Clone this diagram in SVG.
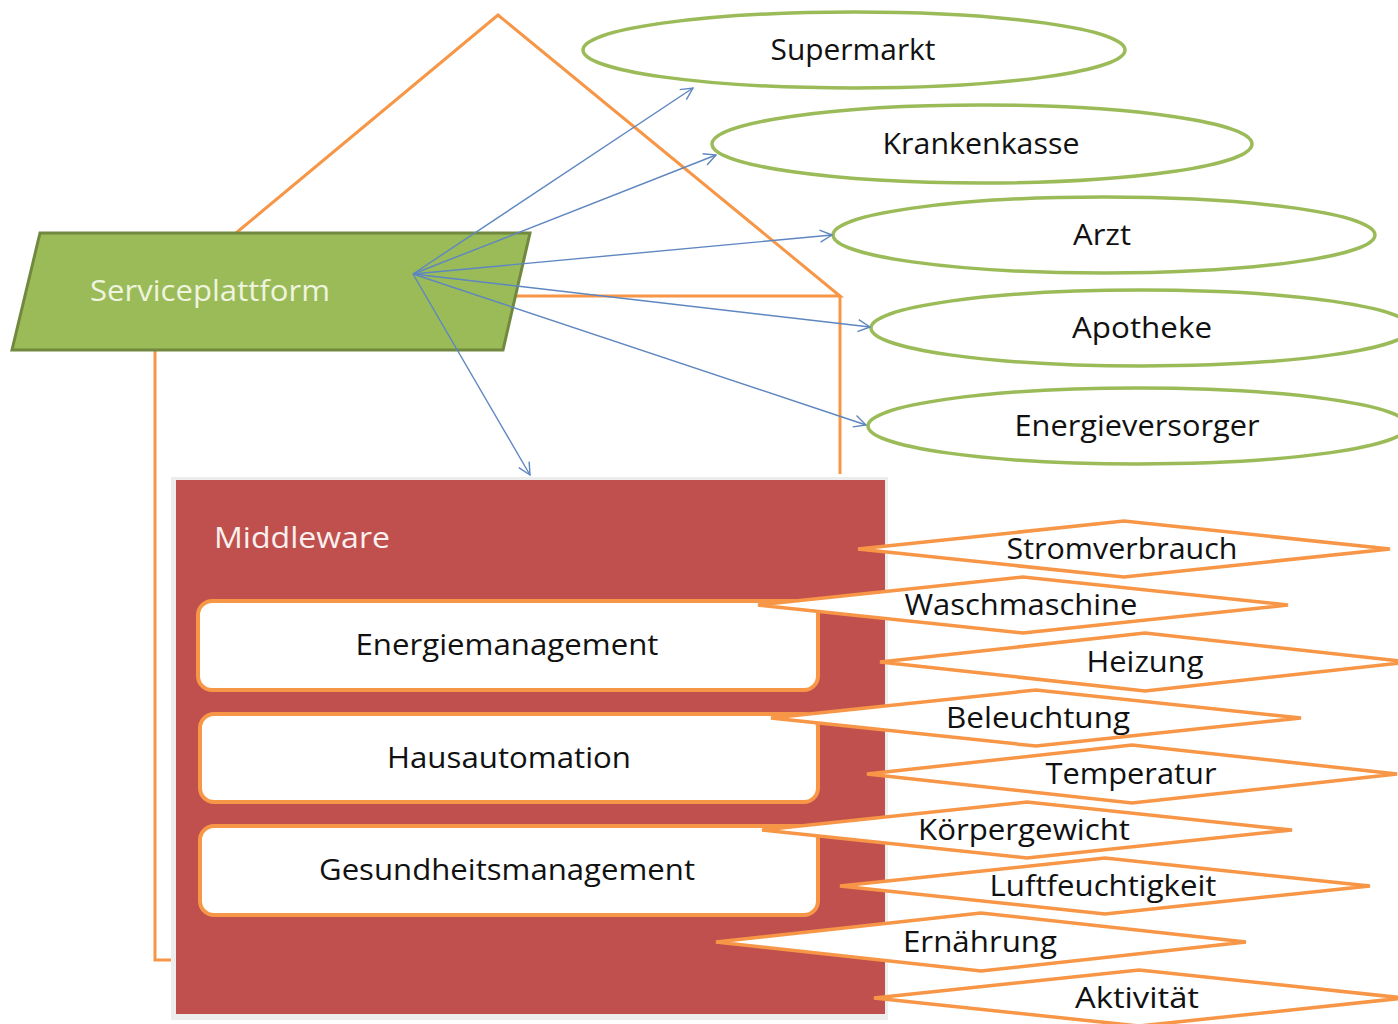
<svg xmlns="http://www.w3.org/2000/svg" width="1398" height="1024" viewBox="0 0 1398 1024">
<defs>
<style>
.house{fill:none;stroke:#F79646;stroke-width:3}
.ell{fill:#fff;stroke:#9BBB59;stroke-width:3.5}
.dia{fill:#fff;stroke:#F79646;stroke-width:3.5;stroke-linejoin:miter}
.box{fill:#fff;stroke:#F79646;stroke-width:4}
.t{font-family:"Open Sans","Liberation Sans",sans-serif;font-size:29px;fill:#111}
.tc{text-anchor:middle}
.arr{fill:none;stroke:#5E86C0;stroke-width:1.4;marker-end:url(#ah)}
</style>
<marker id="ah" viewBox="-13 -7 14 14" refX="0" refY="0" markerWidth="14" markerHeight="14" markerUnits="userSpaceOnUse" orient="auto">
<path d="M-12,-6 L0,0 L-12,6" fill="none" stroke="#5E86C0" stroke-width="1.4"/>
</marker>
</defs>
<rect width="1398" height="1024" fill="#fff"/>
<g id="house">
<polyline class="house" points="236,233 498,15 840,296 515,296"/>
<line class="house" x1="840" y1="296" x2="840" y2="474"/>
<polyline class="house" points="155,350 155,960 176,960"/>
</g>
<g id="supermarkt">
<ellipse class="ell" cx="854" cy="50" rx="271" ry="38"/>
<text class="t tc" x="853" y="60" textLength="165" lengthAdjust="spacingAndGlyphs">Supermarkt</text>
</g>
<g id="krankenkasse">
<ellipse class="ell" cx="982" cy="144" rx="270" ry="39"/>
<text class="t tc" x="981" y="154" textLength="197" lengthAdjust="spacingAndGlyphs">Krankenkasse</text>
</g>
<g id="arzt">
<ellipse class="ell" cx="1104" cy="235" rx="271" ry="38"/>
<text class="t tc" x="1102" y="245" textLength="58" lengthAdjust="spacingAndGlyphs">Arzt</text>
</g>
<g id="apotheke">
<ellipse class="ell" cx="1141" cy="328" rx="270" ry="38"/>
<text class="t tc" x="1142" y="338" textLength="140" lengthAdjust="spacingAndGlyphs">Apotheke</text>
</g>
<g id="energieversorger">
<ellipse class="ell" cx="1138" cy="426" rx="270" ry="38"/>
<text class="t tc" x="1137" y="436" textLength="245" lengthAdjust="spacingAndGlyphs">Energieversorger</text>
</g>
<g id="middleware">
<rect x="171" y="477" width="717" height="543" fill="#EDEDED"/>
<rect x="176" y="480" width="709" height="534" fill="#C0504D"/>
<text class="t" x="214" y="548" style="fill:#FAF0EF" textLength="176" lengthAdjust="spacingAndGlyphs">Middleware</text>
</g>
<g id="energiemanagement">
<rect class="box" x="198" y="601" width="620" height="89" rx="14"/>
<text class="t tc" x="507" y="655" textLength="303" lengthAdjust="spacingAndGlyphs">Energiemanagement</text>
</g>
<g id="hausautomation">
<rect class="box" x="200" y="714" width="618" height="88" rx="14"/>
<text class="t tc" x="509" y="768" textLength="244" lengthAdjust="spacingAndGlyphs">Hausautomation</text>
</g>
<g id="gesundheitsmanagement">
<rect class="box" x="200" y="826" width="618" height="89" rx="14"/>
<text class="t tc" x="507" y="880" textLength="376" lengthAdjust="spacingAndGlyphs">Gesundheitsmanagement</text>
</g>
<g id="serviceplattform">
<polygon points="40,233 530,233 503,350 12,350" fill="#9BBB59" stroke="#71893F" stroke-width="3"/>
<text class="t" x="90" y="301" style="fill:#EEF4DF" textLength="240" lengthAdjust="spacingAndGlyphs">Serviceplattform</text>
</g>
<g id="connectors">
<line class="arr" x1="413" y1="274" x2="693" y2="88"/>
<line class="arr" x1="413" y1="274" x2="716" y2="155"/>
<line class="arr" x1="413" y1="274" x2="832" y2="235"/>
<line class="arr" x1="413" y1="274" x2="870" y2="327"/>
<line class="arr" x1="413" y1="274" x2="866" y2="425"/>
<line class="arr" x1="413" y1="274" x2="530" y2="475"/>
</g>
<g id="stromverbrauch">
<polygon class="dia" points="858,549 1124,521 1390,549 1124,577"/>
<text class="t tc" x="1122" y="559" textLength="231" lengthAdjust="spacingAndGlyphs">Stromverbrauch</text>
</g>
<g id="waschmaschine">
<polygon class="dia" points="758,605 1023,577 1288,605 1023,633"/>
<text class="t tc" x="1021" y="615" textLength="233" lengthAdjust="spacingAndGlyphs">Waschmaschine</text>
</g>
<g id="heizung">
<polygon class="dia" points="880,662 1145,633 1410,662 1145,691"/>
<text class="t tc" x="1145" y="672" textLength="117" lengthAdjust="spacingAndGlyphs">Heizung</text>
</g>
<g id="beleuchtung">
<polygon class="dia" points="771,718 1036,690 1301,718 1036,746"/>
<text class="t tc" x="1038" y="728" textLength="184" lengthAdjust="spacingAndGlyphs">Beleuchtung</text>
</g>
<g id="temperatur">
<polygon class="dia" points="867,774 1132,745 1397,774 1132,803"/>
<text class="t tc" x="1131" y="784" textLength="171" lengthAdjust="spacingAndGlyphs">Temperatur</text>
</g>
<g id="koerpergewicht">
<polygon class="dia" points="762,830 1027,802 1292,830 1027,858"/>
<text class="t tc" x="1024" y="840" textLength="212" lengthAdjust="spacingAndGlyphs">Körpergewicht</text>
</g>
<g id="luftfeuchtigkeit">
<polygon class="dia" points="840,886 1105,858 1370,886 1105,914"/>
<text class="t tc" x="1103" y="896" textLength="227" lengthAdjust="spacingAndGlyphs">Luftfeuchtigkeit</text>
</g>
<g id="ernaehrung">
<polygon class="dia" points="716,942 981,913 1246,942 981,971"/>
<text class="t tc" x="980" y="952" textLength="154" lengthAdjust="spacingAndGlyphs">Ernährung</text>
</g>
<g id="aktivitaet">
<polygon class="dia" points="874,998 1139,970 1404,998 1139,1026"/>
<text class="t tc" x="1137" y="1008" textLength="124" lengthAdjust="spacingAndGlyphs">Aktivität</text>
</g>
</svg>
